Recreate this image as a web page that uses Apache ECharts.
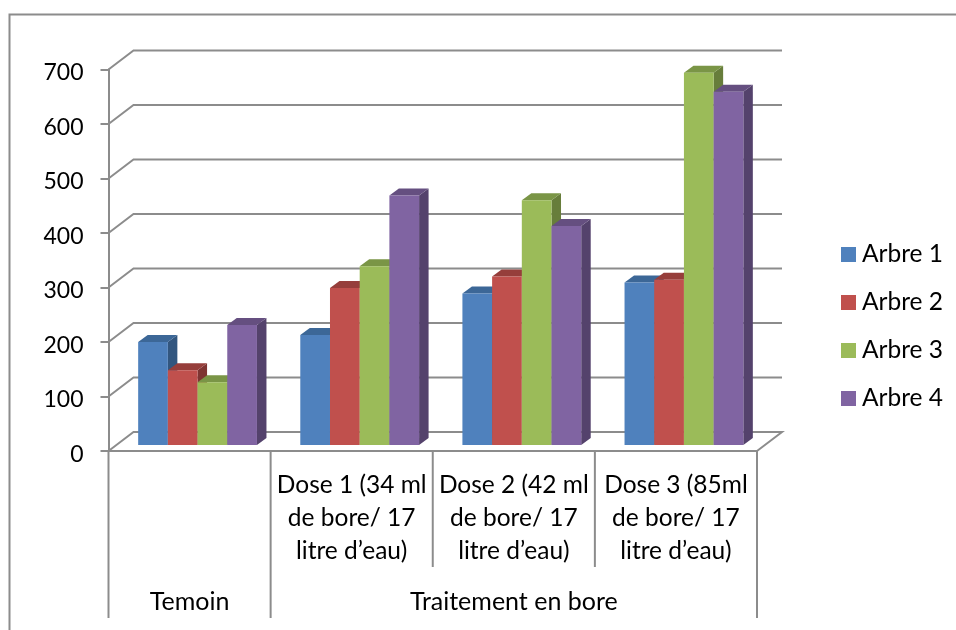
<!DOCTYPE html>
<html>
<head>
<meta charset="utf-8">
<style>
html,body{margin:0;padding:0;background:#fff;}
#chart_bore{width:956px;height:630px;}
</style>
<script src="https://cdn.jsdelivr.net/npm/echarts@6/dist/echarts.min.js"></script>
</head>
<body>
<div id="chart_bore"></div>
<script>
var categories = ['', 'Dose 1 (34 ml\nde bore/ 17\nlitre d’eau)', 'Dose 2 (42 ml\nde bore/ 17\nlitre d’eau)', 'Dose 3 (85ml\nde bore/ 17\nlitre d’eau)'];
var groupLabels = ['Temoin', '', 'Traitement en bore', ''];
var tickValues = [0, 100, 200, 300, 400, 500, 600, 700];
var arbre1 = [189, 202, 278, 298];
var arbre2 = [137, 288, 309, 303];
var arbre3 = [115, 328, 449, 683];
var arbre4 = [220, 458, 402, 648];
var seriesNames = ['Arbre 1', 'Arbre 2', 'Arbre 3', 'Arbre 4'];
var seriesValues = [arbre1, arbre2, arbre3, arbre4];
var edges = [0, 1, 2, 3, 4];
var tallEdges = [0, 1, 4];

// couleurs : face, dessus, cote
var faceColors = ['#4F81BD', '#C0504D', '#9BBB59', '#8064A2'];
var topColors = ['#3C6797', '#963E3B', '#7A9546', '#654F80'];
var sideColors = ['#32567F', '#7E3432', '#677D3B', '#54426C'];

var FONT = 'Lato';
var TEXT_SIZE = 24.5;
var LINE = '#8C8C8C';
var WALL_DX = 25, WALL_DY = -19;   // profondeur du plancher
var BAR_DX = 8, BAR_DY = -6;       // decalage des barres dans le plancher
var SIDE_DX = 9.5, SIDE_DY = -7;   // profondeur d'une barre
var BAR_W = 29.7;

function renderWall(params, api) {
	var v = api.value(1);
	var p = api.coord([0, v]);
	var band = api.size([1, 0])[0];
	var left = p[0] - band / 2;
	var right = left + band * categories.length;
	var pts = [[left, p[1]], [left + WALL_DX, p[1] + WALL_DY], [right + WALL_DX, p[1] + WALL_DY]];
	if (v === 0) {
		pts.push([right, p[1]]);
	}
	return {type: 'polyline', shape: {points: pts}, style: {fill: null, stroke: LINE, lineWidth: 2}};
}

function renderEdge(params, api) {
	var p = api.coord([0, 0]);
	var band = api.size([1, 0])[0];
	var x = p[0] - band / 2 + api.value(0) * band;
	var len = tallEdges.indexOf(api.value(0)) >= 0 ? 167 : 116;
	return {type: 'line', shape: {x1: x, y1: p[1], x2: x, y2: p[1] + len}, style: {stroke: LINE, lineWidth: 2}};
}

function renderBar(index) {
	return function (params, api) {
		var top = api.coord([api.value(0), api.value(1)]);
		var base = api.coord([api.value(0), 0]);
		var x = top[0] + BAR_DX - 2 * BAR_W + index * BAR_W;
		var y0 = top[1] + BAR_DY;
		var y1 = base[1] + BAR_DY;
		var x1 = x + BAR_W;
		return {
			type: 'group',
			children: [
				{type: 'polygon', shape: {points: [[x1, y0], [x1 + SIDE_DX, y0 + SIDE_DY], [x1 + SIDE_DX, y1 + SIDE_DY], [x1, y1]]}, style: {fill: sideColors[index]}},
				{type: 'polygon', shape: {points: [[x, y0], [x + SIDE_DX, y0 + SIDE_DY], [x1 + SIDE_DX, y0 + SIDE_DY], [x1, y0]]}, style: {fill: topColors[index]}},
				{type: 'rect', shape: {x: x, y: y0, width: BAR_W, height: y1 - y0}, style: {fill: faceColors[index]}}
			]
		};
	};
}

var series = [
	{type: 'custom', name: 'mur', xAxisIndex: 0, silent: true, z: 1, renderItem: renderWall,
		data: tickValues.map(function (v) { return [0, v]; })},
	{type: 'custom', name: 'bords', xAxisIndex: 0, silent: true, z: 1, renderItem: renderEdge,
		data: edges.map(function (e) { return [e, 0]; })}
];
seriesNames.forEach(function (name, i) {
	series.push({
		type: 'custom',
		name: name,
		xAxisIndex: 0,
		z: 2 + i,
		itemStyle: {color: faceColors[i]},
		renderItem: renderBar(i),
		data: seriesValues[i].map(function (v, c) { return [c, v]; })
	});
});

var myChart = echarts.init(document.getElementById('chart_bore'));
myChart.setOption({
	animation: false,
	textStyle: {fontFamily: FONT},
	graphic: [{
		type: 'polyline',
		shape: {points: [[9.5, 630], [9.5, 14.5], [956, 14.5]]},
		style: {fill: null, stroke: LINE, lineWidth: 2}
	}],
	grid: {left: 108.5, right: 199, top: 69.5, bottom: 179},
	legend: {
		orient: 'vertical',
		left: 836,
		top: 237,
		icon: 'rect',
		itemWidth: 15,
		itemHeight: 15,
		itemGap: 23,
		data: seriesNames,
		textStyle: {fontFamily: FONT, fontSize: TEXT_SIZE, color: '#000', padding: [0, 0, 0, 1]}
	},
	xAxis: [
		{
			type: 'category',
			data: categories,
			axisLine: {lineStyle: {color: LINE, width: 2}},
			axisTick: {show: false},
			axisLabel: {interval: 0, margin: 18, fontFamily: FONT, fontSize: TEXT_SIZE, lineHeight: 33, color: '#000'}
		},
		{
			type: 'category',
			position: 'bottom',
			offset: 138.5,
			data: groupLabels,
			axisLine: {show: false},
			axisTick: {show: false},
			axisLabel: {interval: 0, margin: 0, fontFamily: FONT, fontSize: 25, color: '#000'}
		}
	],
	yAxis: {
		type: 'value',
		min: 0,
		max: 700,
		interval: 100,
		splitLine: {show: false},
		axisLine: {show: true, lineStyle: {color: LINE, width: 2}},
		axisTick: {show: true, length: 8, lineStyle: {color: LINE, width: 2}},
		axisLabel: {
			margin: 25,
			color: '#000',
			formatter: '{n|{value}}',
			rich: {n: {fontFamily: FONT, fontSize: 23, color: '#000', padding: [7, 0, 0, 0]}}
		}
	},
	series: series
});
</script>
</body>
</html>
